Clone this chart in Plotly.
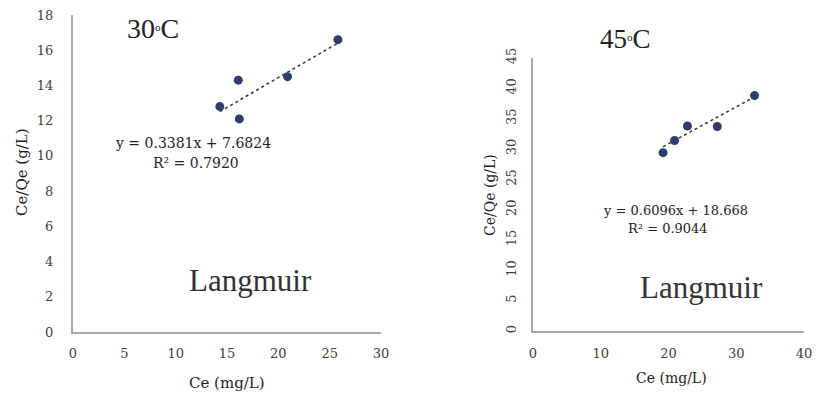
import plotly.graph_objects as go

# 30 °C data
ce_30 = [14.3, 16.1, 16.2, 20.9, 25.8]
ceqe_30 = [12.8, 14.3, 12.1, 14.5, 16.6]
slope_30, icpt_30 = 0.3381, 7.6824

# 45 °C data
ce_45 = [19.2, 20.9, 22.8, 27.2, 32.7]
ceqe_45 = [29.4, 31.4, 33.8, 33.7, 38.8]
slope_45, icpt_45 = 0.6096, 18.668

SERIF = "Liberation Serif"
WIDE = "DejaVu Serif"
MARK = "#2f3d6c"
W, H = 818, 396

def px(x):
    return x / W

def py(y):
    return 1 - y / H

fig = go.Figure()

for ce, q, s, b, xa, ya in [
    (ce_30, ceqe_30, slope_30, icpt_30, "x", "y"),
    (ce_45, ceqe_45, slope_45, icpt_45, "x2", "y2"),
]:
    xs = [min(ce), max(ce)]
    fig.add_trace(go.Scatter(x=xs, y=[s * v + b for v in xs], mode="lines",
                             line=dict(color="#333333", width=1.5, dash="dot"),
                             xaxis=xa, yaxis=ya, showlegend=False, hoverinfo="skip"))
    fig.add_trace(go.Scatter(x=ce, y=q, mode="markers",
                             marker=dict(color=MARK, size=9),
                             xaxis=xa, yaxis=ya, showlegend=False))

axis_common = dict(showgrid=False, zeroline=False, showline=True, linecolor="#a8a8a8",
                   linewidth=2, ticks="", automargin=False,
                   tickfont=dict(family=WIDE, size=13, color="#404040"))

fig.update_layout(
    width=W, height=H, margin=dict(l=0, r=0, t=0, b=0, autoexpand=False),
    plot_bgcolor="white", paper_bgcolor="white",
    xaxis=dict(domain=[px(73), px(381)], range=[0, 30], dtick=5, anchor="y",
               ticklabelstandoff=8, **axis_common),
    yaxis=dict(domain=[py(332), py(15)], range=[0, 18], dtick=2, anchor="x",
               ticklabelstandoff=15, **axis_common),
    xaxis2=dict(domain=[px(533), px(804)], range=[0, 40], dtick=10, anchor="y2",
                ticklabelstandoff=9, **axis_common),
    yaxis2=dict(domain=[py(331), py(58)], range=[0, 45], dtick=5, anchor="x2",
                ticklabelstandoff=10, tickangle=-90, **axis_common),
)

def note(text, x, y, size, angle=0, color="#222222", family=SERIF):
    fig.add_annotation(text=text, x=px(x), y=py(y), xref="paper", yref="paper",
                       showarrow=False, textangle=angle, xanchor="center", yanchor="middle",
                       font=dict(family=family, size=size, color=color))

note("30<span style='font-size:16px'><sup>o</sup></span>C", 153, 29, 28)
note("45<span style='font-size:16px'><sup>o</sup></span>C", 625, 39, 27)
note("Langmuir", 250, 280, 31, color="#333333")
note("Langmuir", 701, 287, 31, color="#333333")
note("y = 0.3381x + 7.6824", 193, 143, 14, family=WIDE)
note("R² = 0.7920", 196, 163, 14, family=WIDE)
note("y = 0.6096x + 18.668", 675, 210, 13, family=WIDE)
note("R² = 0.9044", 668, 228, 13, family=WIDE)
note("Ce/Qe (g/L)", 22, 172, 15, angle=-90, family=WIDE)
note("Ce/Qe (g/L)", 490, 195, 14, angle=-90, family=WIDE)
note("Ce (mg/L)", 227, 383, 15, family=WIDE)
note("Ce (mg/L)", 671, 378, 14, family=WIDE)

fig.write_html("out.html", config={"displayModeBar": False},
               post_script="document.body.style.margin='0';")
